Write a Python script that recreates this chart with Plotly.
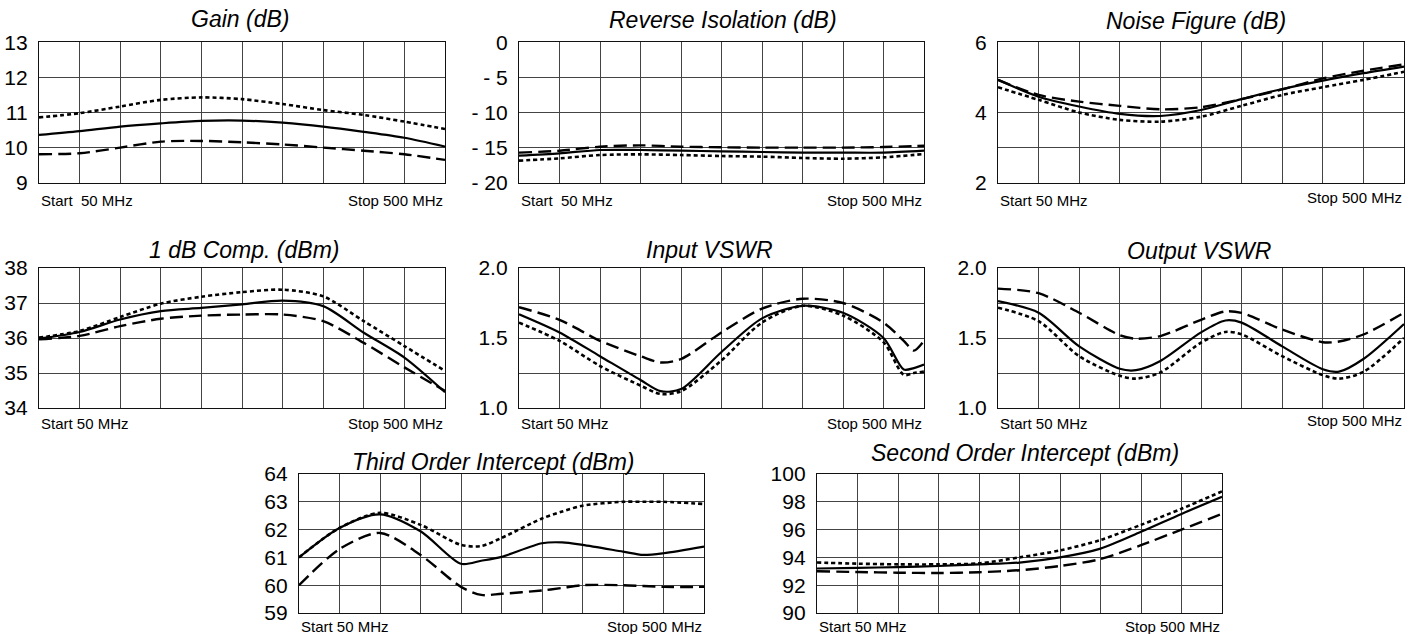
import plotly.graph_objects as go

W, H = 1419, 634

# ---------------- data ----------------
freq11 = [50, 95, 140, 185, 230, 275, 320, 365, 410, 455, 500]

gain_solid = [10.36, 10.47, 10.60, 10.69, 10.76, 10.77, 10.71, 10.60, 10.45, 10.28, 10.03]
gain_dash = [9.81, 9.84, 10.00, 10.17, 10.19, 10.15, 10.09, 10.00, 9.91, 9.81, 9.65]
gain_dot = [10.86, 10.98, 11.17, 11.36, 11.43, 11.38, 11.24, 11.07, 10.93, 10.74, 10.53]

riso_solid = [-16.15, -15.82, -15.34, -15.34, -15.44, -15.53, -15.63, -15.72, -15.72, -15.72, -15.44]
riso_dash = [-15.72, -15.44, -14.87, -14.68, -14.87, -14.96, -15.0, -15.0, -15.0, -14.92, -14.73]
riso_dot = [-16.86, -16.53, -16.06, -15.96, -16.06, -16.20, -16.29, -16.48, -16.58, -16.39, -15.91]

nf_solid = [4.93, 4.45, 4.17, 3.96, 3.90, 4.07, 4.38, 4.67, 4.91, 5.12, 5.31]
nf_dash = [4.93, 4.50, 4.31, 4.19, 4.09, 4.15, 4.38, 4.66, 4.97, 5.19, 5.37]
nf_dot = [4.72, 4.36, 4.00, 3.79, 3.74, 3.88, 4.19, 4.50, 4.72, 4.93, 5.16]

p1db_solid = [35.98, 36.17, 36.53, 36.77, 36.86, 36.96, 37.07, 36.91, 36.15, 35.44, 34.45]
p1db_dash = [35.96, 36.06, 36.34, 36.55, 36.64, 36.67, 36.67, 36.48, 35.86, 35.16, 34.49]
p1db_dot = [36.01, 36.20, 36.60, 36.98, 37.18, 37.31, 37.38, 37.19, 36.48, 35.77, 35.06]

ivswr_freq = [50, 95, 140, 185, 207.5, 230, 275, 320, 365, 410, 455, 477.5, 488.75, 500]
ivswr_solid = [1.67, 1.54, 1.37, 1.20, 1.12, 1.135, 1.40, 1.64, 1.73, 1.68, 1.50, 1.275, 1.285, 1.31]
ivswr_dash = [1.72, 1.63, 1.48, 1.37, 1.325, 1.35, 1.54, 1.71, 1.78, 1.75, 1.61, 1.48, 1.41, 1.48]
ivswr_dot = [1.61, 1.48, 1.30, 1.16, 1.10, 1.12, 1.34, 1.61, 1.73, 1.66, 1.47, 1.237, 1.25, 1.26]

ovswr_freq = [50, 95, 140, 185, 203, 230, 275, 302, 320, 365, 410, 428, 455, 500]
ovswr_solid = [1.763, 1.68, 1.44, 1.28, 1.27, 1.336, 1.54, 1.625, 1.61, 1.44, 1.277, 1.26, 1.35, 1.60]
ovswr_dash = [1.853, 1.82, 1.68, 1.52, 1.495, 1.514, 1.63, 1.69, 1.68, 1.56, 1.47, 1.475, 1.525, 1.68]
ovswr_dot = [1.716, 1.62, 1.37, 1.23, 1.21, 1.254, 1.467, 1.543, 1.526, 1.37, 1.235, 1.21, 1.258, 1.50]

ip3_freq = [50, 95, 140, 185, 230, 252.5, 275, 320, 342.5, 365, 410, 432.5, 455, 500]
ip3_solid = [61.0, 62.06, 62.55, 61.94, 60.77, 60.88, 61.02, 61.51, 61.54, 61.45, 61.21, 61.09, 61.15, 61.39]
ip3_dash = [60.0, 61.30, 61.88, 61.09, 59.94, 59.65, 59.69, 59.81, 59.90, 60.0, 60.0, 59.97, 59.94, 59.94]
ip3_dot = [61.0, 62.06, 62.60, 62.17, 61.45, 61.41, 61.70, 62.40, 62.65, 62.86, 63.0, 63.0, 63.0, 62.92]

ip2_solid = [93.2, 93.25, 93.3, 93.38, 93.5, 93.63, 94.0, 94.63, 95.84, 97.13, 98.36]
ip2_dash = [93.0, 92.95, 92.9, 92.88, 92.93, 93.08, 93.38, 93.88, 94.88, 96.0, 97.13]
ip2_dot = [93.63, 93.55, 93.5, 93.5, 93.57, 94.0, 94.5, 95.25, 96.34, 97.5, 98.75]

titles = ["Gain (dB)", "Reverse Isolation (dB)", "Noise Figure (dB)", "1 dB Comp. (dBm)",
          "Input VSWR", "Output VSWR", "Third Order Intercept (dBm)", "Second Order Intercept (dBm)"]

gain_ticks = [9, 10, 11, 12, 13]
gain_labels = ["9", "10", "11", "12", "13"]
riso_ticks = [-20, -15, -10, -5, 0]
riso_labels = ["- 20", "- 15", "- 10", "- 5", "0"]
nf_ticks = [2, 3, 4, 5, 6]
nf_labels = ["2", "", "4", "", "6"]
p1db_ticks = [34, 35, 36, 37, 38]
p1db_labels = ["34", "35", "36", "37", "38"]
vswr_ticks = [1.0, 1.25, 1.5, 1.75, 2.0]
vswr_labels = ["1.0", "", "1.5", "", "2.0"]
ip3_ticks = [59, 60, 61, 62, 63, 64]
ip3_labels = ["59", "60", "61", "62", "63", "64"]
ip2_ticks = [90, 92, 94, 96, 98, 100]
ip2_labels = ["90", "92", "94", "96", "98", "100"]

start_labels = ["Start\u00a0 50 MHz", "Start\u00a0 50 MHz", "Start 50 MHz", "Start 50 MHz",
                "Start 50 MHz", "Start 50 MHz", "Start 50 MHz", "Start 50 MHz"]
stop_label = "Stop 500 MHz"

# ---------------- layout (pixel boxes) ----------------
# (x0, x1, ytop, ybottom, title_cx, title_cy, start_y, stop_y)
boxes = [
    (39, 445, 42.3, 182.7, 240, 19, 200, 200),
    (519, 924, 42.3, 182.7, 723, 20, 200, 200),
    (998, 1404, 42.3, 182.7, 1196, 21, 200, 197),
    (39, 445, 268, 408, 244, 250, 423, 423),
    (519, 924, 268, 408, 709, 250, 423, 423),
    (998, 1404, 268, 408, 1199, 251, 423, 420),
    (299, 704, 474, 613, 493, 462, 626, 626),
    (817, 1222, 474, 613, 1025, 453, 626, 626),
]

panels = [
    (freq11, gain_solid, gain_dash, gain_dot, [9, 13], gain_ticks, gain_labels),
    (freq11, riso_solid, riso_dash, riso_dot, [-20, 0], riso_ticks, riso_labels),
    (freq11, nf_solid, nf_dash, nf_dot, [2, 6], nf_ticks, nf_labels),
    (freq11, p1db_solid, p1db_dash, p1db_dot, [34, 38], p1db_ticks, p1db_labels),
    (ivswr_freq, ivswr_solid, ivswr_dash, ivswr_dot, [1.0, 2.0], vswr_ticks, vswr_labels),
    (ovswr_freq, ovswr_solid, ovswr_dash, ovswr_dot, [1.0, 2.0], vswr_ticks, vswr_labels),
    (ip3_freq, ip3_solid, ip3_dash, ip3_dot, [59, 64], ip3_ticks, ip3_labels),
    (freq11, ip2_solid, ip2_dash, ip2_dot, [90, 100], ip2_ticks, ip2_labels),
]

FONT = "Liberation Sans, Arial, sans-serif"
fig = go.Figure()
layout = dict(width=W, height=H, margin=dict(l=0, r=0, t=0, b=0, pad=0, autoexpand=False),
              autosize=False, paper_bgcolor="white", plot_bgcolor="white", showlegend=False,
              font=dict(family=FONT, color="black"))
annotations = []

styles = [("solid", 2.2), ("13px,6px", 2.4), ("4px,3px", 2.6)]

for i, (box, pan) in enumerate(zip(boxes, panels)):
    x0, x1, yt, yb, tcx, tcy, sy, ey = box
    fx, s_solid, s_dash, s_dot, yr, tv, tt = pan
    n = i + 1
    xa = "x" if n == 1 else f"x{n}"
    ya = "y" if n == 1 else f"y{n}"
    for ser, (dash, lw) in zip([s_solid, s_dash, s_dot], styles):
        fig.add_trace(go.Scatter(x=fx, y=ser, mode="lines", xaxis=xa, yaxis=ya,
                                 line=dict(color="black", width=lw, dash=dash,
                                           shape="spline", smoothing=0.8),
                                 hoverinfo="skip", cliponaxis=True))
    axcommon = dict(showline=True, mirror=True, linecolor="#111", linewidth=1.3,
                    showgrid=True, gridcolor="#444", gridwidth=1, zeroline=False, ticks="",
                    automargin=False)
    layout[f"xaxis{'' if n == 1 else n}"] = dict(
        domain=[x0 / W, x1 / W], range=[50, 500], tick0=50, dtick=45,
        showticklabels=False, anchor=ya, fixedrange=True, **axcommon)
    layout[f"yaxis{'' if n == 1 else n}"] = dict(
        domain=[1 - yb / H, 1 - yt / H], range=yr, tickvals=tv, ticktext=tt,
        tickfont=dict(size=21, family=FONT, color="black"), anchor=xa,
        ticklabelstandoff=6, fixedrange=True, **axcommon)
    annotations.append(dict(text=f"<i>{titles[i]}</i>", x=tcx / W, y=1 - tcy / H,
                            xref="paper", yref="paper", xanchor="center", yanchor="middle",
                            showarrow=False, font=dict(size=23, family=FONT, color="black")))
    annotations.append(dict(text=start_labels[i], x=x0 / W, y=1 - sy / H,
                            xref="paper", yref="paper", xanchor="left", yanchor="middle",
                            showarrow=False, font=dict(size=15, family=FONT, color="black")))
    annotations.append(dict(text=stop_label, x=x1 / W, y=1 - ey / H,
                            xref="paper", yref="paper", xanchor="right", yanchor="middle",
                            showarrow=False, font=dict(size=15, family=FONT, color="black")))

layout["annotations"] = annotations
fig.update_layout(**layout)
fig.write_html("out.html", config={"displayModeBar": False},
               post_script="document.body.style.margin='0px';document.body.style.overflow='hidden';")
